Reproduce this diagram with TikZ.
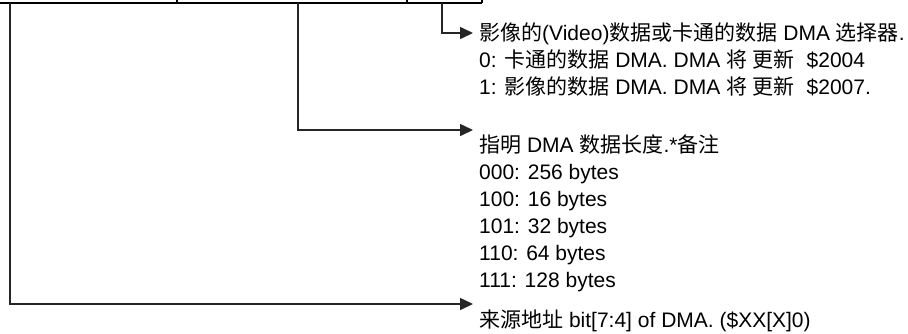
\documentclass[tikz,border=0pt]{standalone}
\usepackage{fontspec}
\setmainfont{Liberation Sans}
\newfontfamily\cjk{Noto Sans CJK SC}
\usetikzlibrary{arrows.meta}
\begin{document}
\begin{tikzpicture}[x=1pt,y=-1pt,
  txt/.style={anchor=base west, inner sep=0pt, font=\fontsize{21}{25}\selectfont},
  conn/.style={line width=1.6pt, draw=black!85, -{Triangle[length=13pt,width=12pt]}},
  regline/.style={line width=2pt, draw=black}]
\useasboundingbox (0,0) rectangle (908,333);
% register box bottom edge with bit-group ticks
\draw[regline] (0,3) -- (482,3);
\draw[regline] (177,0) -- (177,3);
\draw[regline] (407,0) -- (407,3);
\draw[regline] (482,0) -- (482,3);
% field taps
\coordinate (s1) at (442,3);
\coordinate (s2) at (298,3);
\coordinate (s3) at (10,3);
% arrow tips
\coordinate (a1) at (473,33);
\coordinate (a2) at (473,130);
\coordinate (a3) at (473,304);
% texts
\node[txt] (t1) at (479,40) {{\cjk 影像的}(Video){\cjk 数据或卡通的数据} DMA {\cjk 选择器}.};
\node[txt] (t2) at (479,67) {0: {\cjk 卡通的数据} DMA. DMA {\cjk 将} {\cjk 更新}\ \ \$2004};
\node[txt] (t3) at (479,94) {1: {\cjk 影像的数据} DMA. DMA {\cjk 将} {\cjk 更新}\ \ \$2007.};
\node[txt] (m1) at (479,152) {{\cjk 指明} DMA {\cjk 数据长度}.*{\cjk 备注}};
\node[txt] (m2) at (479,179) {000: 256 bytes};
\node[txt] (m3) at (479,206) {100: 16 bytes};
\node[txt] (m4) at (479,233) {101: 32 bytes};
\node[txt] (m5) at (479,260) {110: 64 bytes};
\node[txt] (m6) at (479,287) {111: 128 bytes};
\node[txt] (b1) at (479,327) {{\cjk 来源地址} bit[7:4] of DMA. (\$XX[X]0)};
% connectors
\draw[conn] (s1) |- (a1);
\draw[conn] (s2) |- (a2);
\draw[conn] (s3) |- (a3);
\end{tikzpicture}
\end{document}
